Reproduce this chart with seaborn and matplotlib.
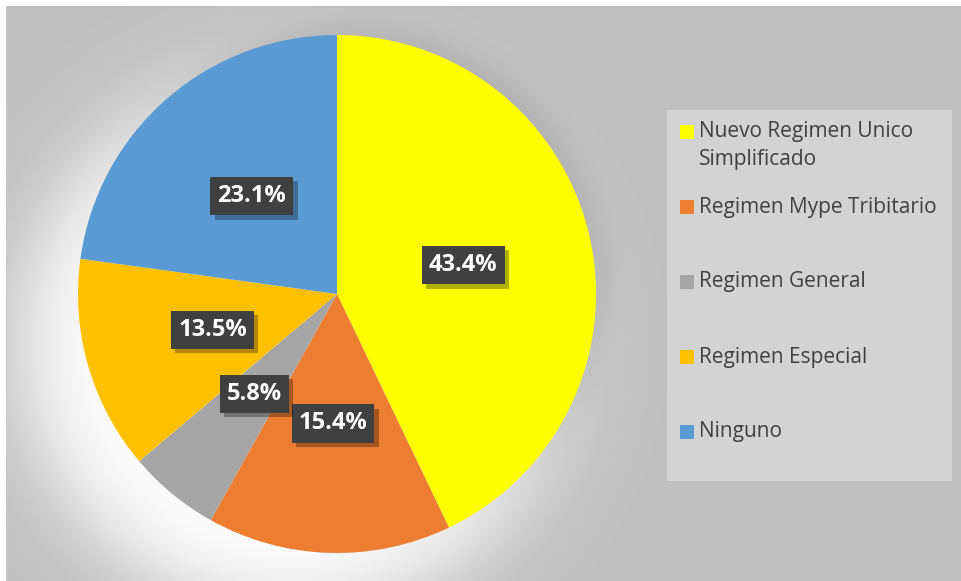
import numpy as np
import matplotlib
matplotlib.use("Agg")
import matplotlib.pyplot as plt
import matplotlib.patheffects as pe
from matplotlib.patches import Rectangle
import seaborn as sns

# data
categories = ["Nuevo Regimen Unico\nSimplificado", "Regimen Mype Tribitario",
              "Regimen General", "Regimen Especial", "Ninguno"]
percents = [43.4, 15.4, 5.8, 13.5, 23.1]
pct_labels = [f"{p:.1f}%" for p in percents]
colors = ["#FFFF00", "#ED7D31", "#A5A5A5", "#FFC000", "#5B9BD5"]

sns.set_theme(style="white")
plt.rcParams["font.family"] = ["Open Sans", "DejaVu Sans"]

W, H = 962, 581
fig = plt.figure(figsize=(W / 100, H / 100), dpi=100)

# backdrop: flat gray chart area with a soft light glow down-left of the pie
cx, cy, R = 337, 294, 259
yy, xx = np.mgrid[0:H, 0:W]
bg = np.full((H, W), 191.0)
d_dark = np.hypot(xx - (cx + 6), yy - (cy - 5))
bg -= 22 / (1 + np.exp((d_dark - R - 4) / 7))
d_glow = np.hypot(xx - (cx - 45), yy - (cy + 50))
glow = 1 / (1 + np.exp((d_glow - R - 8) / 26))
bg = bg * (1 - glow) + 255 * glow
bg[:6, :] = 255
bg[:, :7] = 255
bg[6:, 6] = 200
bg_rgb = np.dstack([bg, bg, bg]).clip(0, 255).astype(np.uint8)

ax_bg = fig.add_axes([0, 0, 1, 1])
ax_bg.imshow(bg_rgb, aspect="auto", extent=[0, W, H, 0])
ax_bg.set_xlim(0, W)
ax_bg.set_ylim(H, 0)
ax_bg.axis("off")

# pie axes, square in pixels
ax = fig.add_axes([(cx - R) / W, 1 - (cy + R) / H, 2 * R / W, 2 * R / H])
ax.set_facecolor("none")
wedges, texts = ax.pie(percents, colors=colors, startangle=90, counterclock=False,
                       labels=pct_labels, labeldistance=0.5,
                       wedgeprops=dict(linewidth=0))
ax.set_xlim(-1, 1)
ax.set_ylim(-1, 1)
ax.set_aspect("equal")
ax.axis("off")

for t in texts:
    t.set_ha("center")
    t.set_va("center")
    t.set_color("white")
    t.set_fontsize(17)
    t.set_fontweight("bold")
    t.set_bbox(dict(boxstyle="square,pad=0.3", facecolor="#404040", edgecolor="none"))
    t.get_bbox_patch().set_path_effects(
        [pe.withSimplePatchShadow(offset=(3, -3), shadow_rgbFace="black", alpha=0.3)])

# legend panel
ax_bg.add_patch(Rectangle((667, 110), 952 - 667, 481 - 110, facecolor="#D3D3D3",
                          edgecolor="none", zorder=3))
for i, (cat, col) in enumerate(zip(categories, colors)):
    yc = 132 + 75 * i
    ax_bg.add_patch(Rectangle((680, yc - 7), 14, 14, facecolor=col, edgecolor="none", zorder=4))
    for j, line in enumerate(cat.split("\n")):
        ax_bg.text(699, yc + 28 * j, line, va="center", ha="left", fontsize=15,
                   color="#404040", zorder=5)

fig.savefig("out.png", dpi=100)
